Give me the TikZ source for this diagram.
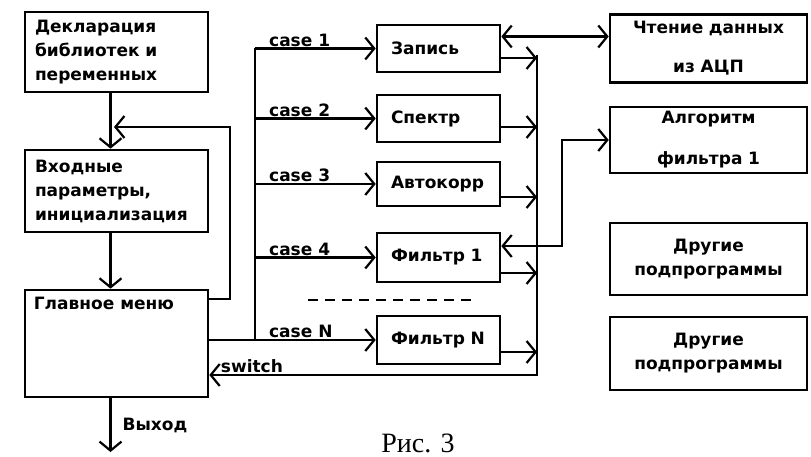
\documentclass[tikz,border=0pt]{standalone}
\usepackage{fontspec}
\setmainfont{DejaVu Sans}
\newfontfamily\capfont{Liberation Serif}
\usetikzlibrary{arrows.meta}

\begin{document}
\begin{tikzpicture}[x=1pt, y=-1pt, font=\fontsize{17}{24}\selectfont\bfseries,
  b/.style={draw, line width=2.6pt, inner sep=2pt},
  L/.style={b, minimum width=183pt, text width=163pt, align=left},
  M/.style={b, minimum width=123pt, text width=95pt, align=left},
  R/.style={b, minimum width=197pt, text width=180pt, align=center},
  ln/.style={line width=2.2pt},
  a/.style={ln, -{Straight Barb[length=9pt, width=22pt]}},
  aa/.style={ln, {Straight Barb[length=9pt, width=22pt]}-{Straight Barb[length=9pt, width=22pt]}},
  t/.style={inner sep=1pt}]
 \useasboundingbox (0,0) rectangle (811,457);
 % left column
 \node[L, minimum height=80pt] (decl) at (116.5,52) {Декларация\\библиотек и\\переменных};
 \node[L, minimum height=82pt] (init) at (116.5,191) {Входные\\параметры,\\инициализация};
 \node[b, minimum width=183pt, minimum height=107pt,
   label={[t, anchor=north west, xshift=9pt, yshift=-7pt]north west:Главное меню}] (menu) at (116.5,343.5) {};
 \coordinate (exit) at (110.5,452);
 \coordinate (back) at (230,127);
 \coordinate (ret) at (114,127);
 \draw[a] ([xshift=-6pt]decl.south) -- ([xshift=-6pt]init.north);
 \draw[a] ([xshift=-6pt]init.south) -- ([xshift=-6pt]menu.north);
 \draw[a] ([xshift=-6pt]menu.south) -- node[t, right=10pt, pos=0.5] {Выход} (exit);
 \draw[a] ([yshift=-10pt]menu.north east) -| (back) -- (ret);
 % subprograms
 \node[M, minimum height=47pt] (zap) at (438.5,48.5) {Запись};
 \node[M, minimum height=47pt] (spec) at (438.5,118.5) {Спектр};
 \node[M, minimum height=44pt] (acor) at (438.5,184) {Автокорр};
 \node[M, minimum height=49pt] (f1) at (438.5,257.5) {Фильтр 1};
 \node[M, minimum height=48pt] (fN) at (438.5,340) {Фильтр N};
 \draw[ln, dash pattern=on 10pt off 7pt] (308,300) -- (473,300);
 % right column
 \node[R, minimum height=68pt] (adc) at (708.5,48.5) {Чтение данных\\[15pt]из АЦП};
 \node[R, minimum height=66pt] (alg) at (708.5,140) {Алгоритм\\[17pt]фильтра 1};
 \node[R, minimum height=72pt] (oth1) at (708.5,259) {Другие\\подпрограммы};
 \node[R, minimum height=73pt] (oth2) at (708.5,353.5) {Другие\\подпрограммы};
 % switch / case
 \coordinate (lbus) at (255,0);
 \draw[ln] (zap.west -| lbus) -- (fN.west -| lbus);
 \foreach \n/\c in {zap/1, spec/2, acor/3, f1/4}
   \draw[a] (\n.west -| lbus) -- node[t, above, pos=0.37] {case \c} (\n.west);
 \draw[a] (menu.east |- fN.west) -- node[t, above, pos=0.55] {case N} (fN.west);
 % return to menu
 \coordinate (rtop) at (537,55);
 \coordinate (rbot) at (537,375);
 \foreach \n/\d in {zap/-9.5, spec/-8.5, acor/-13, f1/-15.5, fN/-12}
   \draw[a] ([yshift=\d pt]\n.east) coordinate (o) -- (o -| rtop);
 \draw[a] (rtop) -- (rbot) -- node[t, above, pos=0.87] {switch} (menu.east |- rbot);
 % calls
 \coordinate (fk) at (562,0);
 \draw[aa] ([yshift=12pt]zap.east) -- ([yshift=12pt]adc.west);
 \draw[aa] ([yshift=11.5pt]f1.east) -| (fk |- alg.west) -- (alg.west);
 \node[font=\capfont\fontsize{28}{30}\selectfont] (cap) at (418,443) {Рис. 3};
\end{tikzpicture}
\end{document}
